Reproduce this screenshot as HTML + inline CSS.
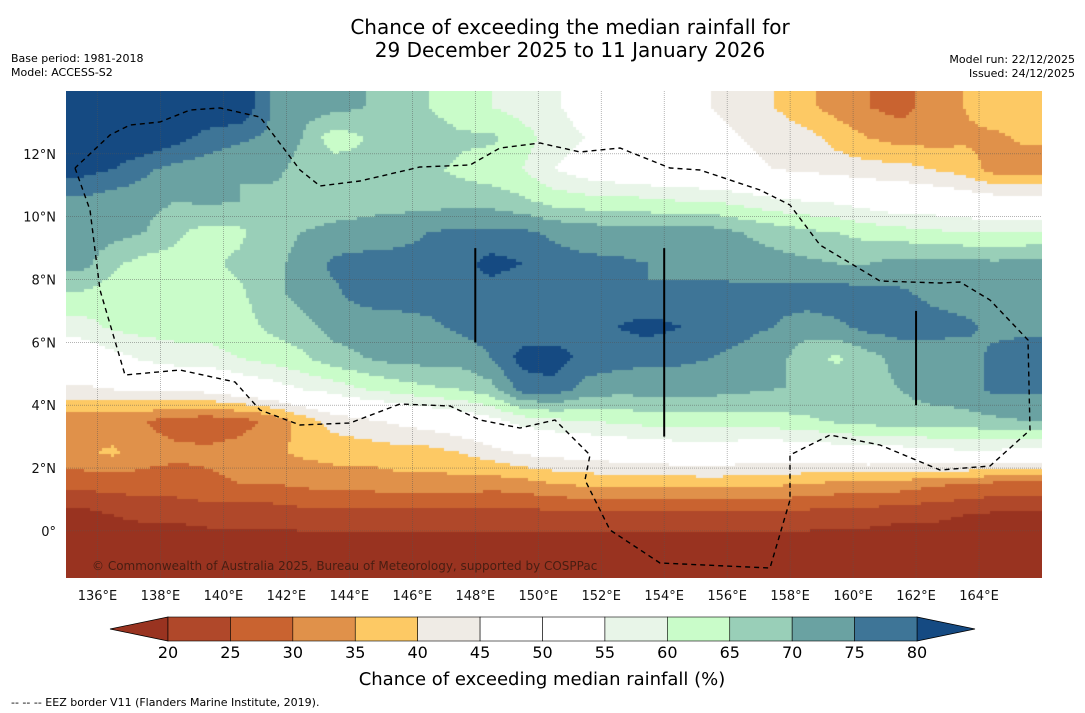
<!DOCTYPE html>
<html><head><meta charset="utf-8"><style>
body{margin:0;background:#fff;width:1085px;height:713px;overflow:hidden;font-family:"DejaVu Sans","Liberation Sans",sans-serif;position:relative}
svg text{font-family:"DejaVu Sans","Liberation Sans",sans-serif}
#field{position:absolute;left:66px;top:91px}
#ov{position:absolute;left:0;top:0}
</style></head><body>
<canvas id="field" width="976" height="487"></canvas>
<svg id="ov" width="1085" height="713"></svg>
<script>
// data: rows lat 13.5 .. -1.5, cols lon 135.5 .. 165.5
const lats=[13.5,12.5,11.5,10.5,9.5,8.5,7.5,6.5,5.5,4.5,3.5,2.5,1.5,0.5,-0.5,-1.5];
const lons=[];for(let l=135.5;l<=165.5;l++)lons.push(l);
const row0=[85,85,85,85,85,85,75,72,72,70,68,65,62,60,58,56,52,50,48,47,45,43,40,36,33,30,28,32,35,38,38];
const row1=[85,85,85,82,78,76,74,70,62,65,68,68,66,66,62,58,55,52,50,48,47,45,44,42,38,35,33,33,34,34,36];
const row2=[82,80,76,73,72,70,72,68,68,67,66,66,64,62,60,55,52,50,49,48,47,46,45,44,43,42,42,40,38,33,32];
const row3=[74,72,72,70,71,70,68,66,66,68,68,68,68,68,66,63,62,62,61,60,60,58,56,55,54,52,50,50,49,48,48];
const row4=[73,72,70,66,63,64,68,70,72,72,73,75,76,76,76,74,73,72,72,72,72,70,68,66,65,63,62,61,60,60,60];
const row5=[72,66,63,63,64,66,68,72,76,77,77,77,78,82,80,77,76,76,75,74,73,72,72,71,70,70,72,72,72,71,72];
const row6=[64,62,62,62,62,64,68,72,74,77,77,77,77,77,76,76,76,76,75,76,77,77,77,78,78,77,76,74,73,72,72];
const row7=[58,61,62,62,62,63,66,68,72,72,73,74,76,77,76,76,77,80,82,80,77,76,75,72,74,77,77,77,76,74,74];
const row8=[50,53,56,58,58,60,62,64,68,70,72,72,72,75,82,83,78,77,76,76,75,74,72,67,64,68,72,72,73,76,77];
const row9=[44,45,46,46,47,50,52,55,57,60,62,64,65,68,77,78,73,72,72,72,72,71,70,70,68,68,70,72,73,76,76];
const row10=[32,31,30,28,27,28,31,37,42,44,46,48,50,53,57,59,60,61,62,62,62,63,63,64,66,67,68,68,68,69,70];
const row11=[34,36,32,31,31,32,34,36,37,37,38,38,40,43,46,47,48,49,50,51,52,50,50,50,51,52,52,53,54,54,52];
const row12=[27,27,28,28,29,30,30,31,32,32,33,33,33,32,33,35,36,36,36,36,37,36,36,35,34,34,33,31,30,29,29];
const row13=[18,20,21,21,22,22,22,23,23,23,23,23,23,23,23,23,23,23,23,23,23,23,23,23,22,22,21,21,20,19,19];
const row14=[17,17,17,17,17,17,17,17,17,17,17,17,17,17,17,17,17,17,17,17,17,17,17,17,17,17,17,17,17,17,17];
const row15=[17,17,17,17,17,17,17,17,17,17,17,17,17,17,17,17,17,17,17,17,17,17,17,17,17,17,17,17,17,17,17];
const grid=[row0,row1,row2,row3,row4,row5,row6,row7,row8,row9,row10,row11,row12,row13,row14,row15];
const levels=[20,25,30,35,40,45,50,55,60,65,70,75,80];
const colors=['#993320','#b0482a','#c96330','#e0914a','#fdc964','#efebe5','#ffffff','#ffffff','#e8f5e8','#c9fcc9','#99cfb8','#6aa2a2','#3e7597','#154a82'];
const tickLons=[136,138,140,142,144,146,148,150,152,154,156,158,160,162,164];
const tickLats=[0,2,4,6,8,10,12];

const X0=66,Y0=91,W=976,H=487,LON0=135,LON1=166,LAT0=14,LAT1=-1.5;
const xs=lon=>X0+(lon-LON0)/(LON1-LON0)*W;
const ys=lat=>Y0+(LAT0-lat)/(LAT0-LAT1)*H;
function colorFor(v){let i=0;while(i<levels.length&&v>=levels[i])i++;return colors[i];}
function sample(lon,lat){
  let fc=(lon-lons[0]),fr=(lats[0]-lat);
  fc=Math.max(0,Math.min(lons.length-1.001,fc));fr=Math.max(0,Math.min(lats.length-1.001,fr));
  const c=Math.floor(fc),r=Math.floor(fr),tx=fc-c,ty=fr-r;
  const a=grid[r][c],b=grid[r][c+1],d=grid[r+1][c],e=grid[r+1][c+1];
  return a*(1-tx)*(1-ty)+b*tx*(1-ty)+d*(1-tx)*ty+e*tx*ty;
}
const ctx=document.getElementById('field').getContext('2d');
const S=3;
for(let py=0;py<H;py+=S)for(let px=0;px<W;px+=S){
  const lon=LON0+(px+S/2)/W*(LON1-LON0), lat=LAT0-(py+S/2)/H*(LAT0-LAT1);
  ctx.fillStyle=colorFor(sample(lon,lat));ctx.fillRect(px,py,S,S);
}
const NS='http://www.w3.org/2000/svg',svg=document.getElementById('ov');
function el(t,a,txt){const e=document.createElementNS(NS,t);for(const k in a)e.setAttribute(k,a[k]);if(txt!=null)e.textContent=txt;svg.appendChild(e);return e;}
tickLons.forEach(l=>{
  const g=el('line',{x1:xs(l),x2:xs(l),y1:Y0,y2:Y0+H,stroke:'#555','stroke-width':0.6,'stroke-dasharray':'1,1',opacity:0.7});
  
  
  const t=el('text',{x:xs(l),y:600,'text-anchor':'middle','font-size':13,fill:'#111'},l+'°E');
  
  
});
tickLats.forEach(l=>{
  const g=el('line',{x1:X0,x2:X0+W,y1:ys(l),y2:ys(l),stroke:'#555','stroke-width':0.6,'stroke-dasharray':'1,1',opacity:0.7});
  
  
  const t=el('text',{x:56,y:ys(l)+5,'text-anchor':'end','font-size':13,fill:'#111'},l===0?'0°':l+'°N');
  
  
});
const eez=[[75,168],[90,210],[100,290],[125,375],[180,370],[235,382],[260,410],[300,425],[350,423],[400,404],[450,406],[480,420],[520,428],[555,420],[590,455],[585,480],[610,530],[660,563],[770,568],[790,500],[790,455],[830,435],[880,445],[940,470],[990,466],[1030,430],[1028,340],[990,300],[960,282],[940,283],[880,281],[820,245],[790,205],[760,190],[700,170],[670,168],[620,148],[580,152],[540,143],[500,148],[470,165],[420,167],[360,181],[320,186],[300,170],[260,117],[220,108],[190,110],[160,122],[130,125],[110,135],[75,168]];
const p=el('path',{d:'M'+eez.map(q=>q.join(',')).join('L'),fill:'none',stroke:'#000','stroke-width':1.4,'stroke-dasharray':'5,4'});


[[148,9,6],[154,9,3],[162,7,4]].forEach(s=>{
  const l=el('line',{x1:xs(s[0]),x2:xs(s[0]),y1:ys(s[1]),y2:ys(s[2]),stroke:'#000','stroke-width':2});
  
  
});
const cp=el('text',{x:92,y:570,'font-size':12,fill:'#3a1a10',opacity:0.85},'© Commonwealth of Australia 2025, Bureau of Meteorology, supported by COSPPac');


const CB0=168,CB1=917,CY=617,CH=24,bw=(CB1-CB0)/12;
const lt=el('polygon',{points:`110,${CY+CH/2} ${CB0},${CY} ${CB0},${CY+CH}`,fill:colors[0],stroke:'#000','stroke-width':0.8});


const rt=el('polygon',{points:`975,${CY+CH/2} ${CB1},${CY} ${CB1},${CY+CH}`,fill:colors[13],stroke:'#000','stroke-width':0.8});


for(let i=0;i<12;i++){
  const r=el('rect',{x:CB0+i*bw,y:CY,width:bw,height:CH,fill:colors[i+1],stroke:'#000','stroke-width':0.6});
  
  
}
levels.forEach((v,i)=>{
  const t=el('text',{x:CB0+i*bw,y:658,'text-anchor':'middle','font-size':16,fill:'#000'},v);
  
  
});
</script>
<svg width="1085" height="713" style="position:absolute;left:0;top:0;pointer-events:none">
<text x="570" y="34" text-anchor="middle" font-size="20">Chance of exceeding the median rainfall for</text>
<text x="570" y="57" text-anchor="middle" font-size="20">29 December 2025 to 11 January 2026</text>
<text x="11" y="62" font-size="11">Base period: 1981-2018</text>
<text x="11" y="76" font-size="11">Model: ACCESS-S2</text>
<text x="1075" y="63" font-size="11" text-anchor="end">Model run: 22/12/2025</text>
<text x="1075" y="77" font-size="11" text-anchor="end">Issued: 24/12/2025</text>
<text x="542" y="685" text-anchor="middle" font-size="18">Chance of exceeding median rainfall (%)</text>
<text x="11" y="706" font-size="11">--  --  -- EEZ border V11 (Flanders Marine Institute, 2019).</text>
</svg>
</body></html>
